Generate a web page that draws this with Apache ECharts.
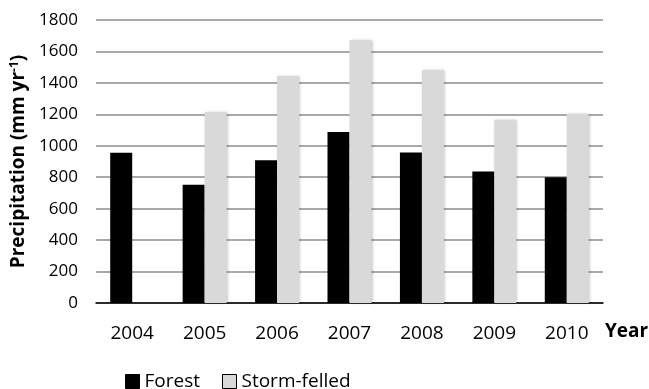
<!DOCTYPE html>
<html>
<head>
<meta charset="utf-8">
<script src="https://cdn.jsdelivr.net/npm/echarts@6/dist/echarts.min.js"></script>
<style>
  html, body { margin: 0; padding: 0; background: #fff; }
  #chart { width: 649px; height: 389px; }
</style>
</head>
<body>
<div id="chart"></div>
<script>
// Annual precipitation, forest vs. storm-felled site
const years = ['2004', '2005', '2006', '2007', '2008', '2009', '2010'];
const forest = [955, 752, 908, 1088, 957, 836, 800];
const stormFelled = [null, 1215, 1444, 1673, 1482, 1165, 1203];
const yTicks = { min: 0, max: 1800, interval: 200 };

const FONT = '"Open Sans", "DejaVu Sans", sans-serif';

const chart = echarts.init(document.getElementById('chart'), null, { renderer: 'canvas' });
chart.setOption({
  animation: false,
  backgroundColor: '#ffffff',
  grid: { left: 96, right: 46, top: 20, bottom: 86 },
  legend: {
    left: 120,
    top: 367,
    icon: 'rect',
    itemWidth: 14,
    itemHeight: 14,
    itemGap: 22,
    textStyle: { fontFamily: FONT, fontSize: 19, color: '#000' },
    data: [
      { name: 'Forest', itemStyle: { color: '#000', borderColor: '#000', borderWidth: 1 } },
      { name: 'Storm-felled', itemStyle: { color: '#d9d9d9', borderColor: '#000', borderWidth: 1 } }
    ]
  },
  xAxis: {
    type: 'category',
    data: years,
    axisTick: { show: false },
    axisLine: { lineStyle: { color: '#000', width: 1.5 } },
    axisLabel: { fontFamily: FONT, fontSize: 19, color: '#000', margin: 21 }
  },
  yAxis: {
    type: 'value',
    min: yTicks.min,
    max: yTicks.max,
    interval: yTicks.interval,
    name: '{t|Precipitation (mm yr}{s|-1}{t|)}',
    nameLocation: 'middle',
    nameRotate: 90,
    nameGap: 61,
    nameTextStyle: {
      rich: {
        t: { fontFamily: FONT, fontSize: 19, fontWeight: 'bold', color: '#000' },
        s: { fontFamily: FONT, fontSize: 12, fontWeight: 'bold', color: '#000', verticalAlign: 'top', padding: [0, 0, 9, 0] }
      }
    },
    axisLine: { show: false },
    axisTick: { show: false },
    axisLabel: {
      fontFamily: FONT, fontSize: 17, color: '#000', margin: 18,
      formatter: (v) => String(v)
    },
    splitLine: { lineStyle: { color: '#8c8c8c', width: 1.5 } }
  },
  graphic: [{
    type: 'text',
    left: 605,
    top: 322,
    style: { text: 'Year', fontFamily: FONT, fontSize: 19, fontWeight: 'bold', fill: '#000' }
  }],
  series: [
    {
      name: 'Forest',
      type: 'bar',
      data: forest,
      barWidth: 22,
      barGap: '0%',
      itemStyle: { color: '#000' }
    },
    {
      name: 'Storm-felled',
      type: 'bar',
      data: stormFelled,
      barWidth: 22,
      itemStyle: {
        color: '#d9d9d9',
        shadowColor: 'rgba(0,0,0,0.25)',
        shadowBlur: 3,
        shadowOffsetX: 1
      }
    }
  ]
});
</script>
</body>
</html>
